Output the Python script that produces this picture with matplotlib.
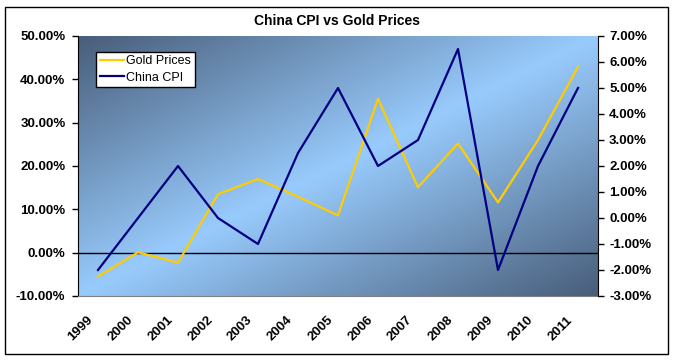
import matplotlib
matplotlib.use("Agg")
import matplotlib.pyplot as plt
import matplotlib.transforms as mtransforms
from matplotlib.patches import Rectangle
from matplotlib.ticker import FuncFormatter, MultipleLocator
import numpy as np

plt.rcParams['font.family'] = ['Liberation Sans', 'DejaVu Sans']

years = ['1999', '2000', '2001', '2002', '2003', '2004', '2005',
         '2006', '2007', '2008', '2009', '2010', '2011']
gold_prices = [-5.5, 0.1, -2.3, 13.5, 17.0, 12.9, 8.6,
               35.5, 15.1, 25.2, 11.6, 26.0, 42.9]      # % (left axis)
china_cpi = [-2.0, 0.0, 2.0, 0.0, -1.0, 2.5, 5.0,
             2.0, 3.0, 6.5, -2.0, 2.0, 5.0]             # % (right axis)

W, H = 674, 361
fig = plt.figure(figsize=(W / 100, H / 100), dpi=100)
fig.patch.set_facecolor('white')

# outer border
fig.add_artist(Rectangle((5 / W, (H - 354) / H), 663 / W, 347 / H,
                         transform=fig.transFigure, fill=False,
                         edgecolor='black', linewidth=1))

pos = [78 / W, (H - 296) / H, 520 / W, 260 / H]

# gradient background
bg = fig.add_axes(pos, zorder=-1)
bg.axis('off')
nx, ny = 520, 260
u = np.linspace(0, 1, nx)[None, :]
v = np.linspace(0, 1, ny)[:, None]
t = (u + v) / 2.0
w = 1 - np.abs(t - 0.5) * 2  # 0 at corners, 1 in middle diagonal
dark = np.array([72, 93, 121]) / 255.0
light = np.array([152, 203, 253]) / 255.0
img = dark[None, None, :] * (1 - w[..., None]) + light[None, None, :] * w[..., None]
bg.imshow(img, aspect='auto', extent=[0, 1, 0, 1], interpolation='bilinear')
bg.set_xlim(0, 1)
bg.set_ylim(0, 1)

ax = fig.add_axes(pos)
ax.patch.set_visible(False)
ax2 = ax.twinx()
ax2.patch.set_visible(False)

x = np.arange(len(years))
l1, = ax.plot(x, np.array(gold_prices) / 100, color='#FFCC00', lw=1.6,
              label='Gold Prices', zorder=3)
l2, = ax2.plot(x, np.array(china_cpi) / 100, color='#000080', lw=1.6,
               label='China CPI', zorder=3)

ax.axhline(0, color='black', lw=1, zorder=2)

ax.set_xlim(-0.5, len(years) - 0.5)
ax.set_ylim(-0.10, 0.50)
ax2.set_ylim(-0.03, 0.07)
ax.yaxis.set_major_locator(MultipleLocator(0.10))
ax2.yaxis.set_major_locator(MultipleLocator(0.01))
fmt = FuncFormatter(lambda val, p: f"{val * 100:.2f}%")
ax.yaxis.set_major_formatter(fmt)
ax2.yaxis.set_major_formatter(fmt)

for a in (ax, ax2):
    a.spines['top'].set_visible(False)
ax.spines['left'].set_color('black')
ax2.spines['right'].set_color('black')
ax2.spines['left'].set_visible(False)
ax.spines['right'].set_visible(False)
ax.spines['bottom'].set_color('#808080')
ax2.spines['bottom'].set_visible(False)

ax.tick_params(axis='y', direction='out', length=4, width=1, pad=5,
               labelsize=9.5)
ax2.tick_params(axis='y', direction='out', length=4, width=1, pad=4,
                labelsize=9.5)
for lab in ax.get_yticklabels() + ax2.get_yticklabels():
    lab.set_fontweight('bold')

ax.set_xticks(x)
ax.set_xticklabels(years, rotation=45, ha='right', va='top',
                   fontweight='bold', fontsize=9.5)
ax.tick_params(axis='x', length=0, pad=13)
offset = mtransforms.ScaledTranslation(-3 / 100, 0, fig.dpi_scale_trans)
for lab in ax.get_xticklabels():
    lab.set_transform(lab.get_transform() + offset)

leg = ax2.legend(handles=[l1, l2], loc='upper left',
                 bbox_to_anchor=(0.035, 0.94), fontsize=9,
                 frameon=True, fancybox=False, framealpha=1,
                 edgecolor='black', borderpad=0.3, labelspacing=0.35,
                 handlelength=1.9, handletextpad=0.2, borderaxespad=0)
leg.get_frame().set_linewidth(1)

fig.text(0.5, (H - 21) / H, 'China CPI vs Gold Prices', ha='center',
         va='center', fontsize=10, fontweight='bold')

fig.savefig('out.png', dpi=100)
